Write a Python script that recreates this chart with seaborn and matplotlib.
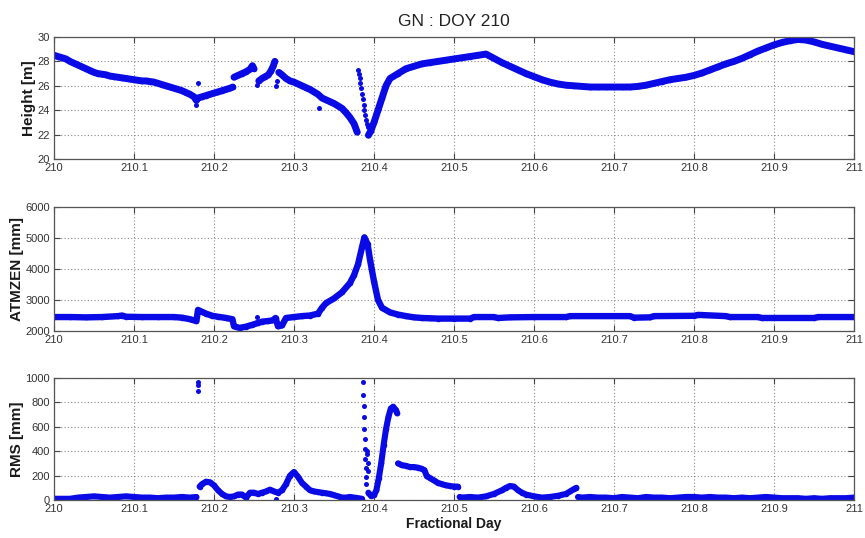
import numpy as np
import pandas as pd
import matplotlib
matplotlib.use("Agg")
import matplotlib.pyplot as plt
import seaborn as sns

# ---------------- data ----------------
x_ticks = [210.0, 210.1, 210.2, 210.3, 210.4, 210.5, 210.6, 210.7, 210.8, 210.9, 211.0]
x_ticklabels = ["210", "210.1", "210.2", "210.3", "210.4", "210.5", "210.6", "210.7", "210.8", "210.9", "211"]

# Height [m]
h_a_day = [210.000, 210.005, 210.010, 210.015, 210.020, 210.025, 210.030, 210.035, 210.040, 210.045,
           210.050, 210.055, 210.060, 210.065, 210.070, 210.075, 210.080, 210.085, 210.090, 210.095,
           210.100, 210.105, 210.110, 210.115, 210.120, 210.125, 210.130, 210.135, 210.140, 210.145,
           210.150, 210.155, 210.160, 210.165, 210.170, 210.175, 210.178, 210.180, 210.185, 210.190,
           210.195, 210.200, 210.205, 210.210, 210.215, 210.220, 210.2235]
h_a_val = [28.5, 28.4, 28.3, 28.2, 28.0, 27.85, 27.7, 27.55, 27.4, 27.25,
           27.1, 27.0, 26.95, 26.9, 26.8, 26.75, 26.7, 26.65, 26.6, 26.55,
           26.5, 26.45, 26.4, 26.4, 26.35, 26.3, 26.2, 26.1, 26.0, 25.9,
           25.8, 25.7, 25.6, 25.45, 25.3, 25.1, 24.8, 25.0, 25.1, 25.2,
           25.3, 25.4, 25.5, 25.6, 25.7, 25.8, 25.9]
h_b_day = [210.225, 210.230, 210.235, 210.240, 210.245, 210.248, 210.250]
h_b_val = [26.7, 26.85, 27.0, 27.15, 27.35, 27.65, 27.4]
h_c_day = [210.256, 210.260, 210.264, 210.268, 210.271, 210.274, 210.276]
h_c_val = [26.4, 26.6, 26.75, 26.9, 27.2, 27.6, 28.0]
h_d_day = [210.281, 210.285, 210.290, 210.295, 210.300, 210.305, 210.310, 210.315, 210.320, 210.325,
           210.330, 210.335, 210.340, 210.345, 210.350, 210.355, 210.360, 210.365, 210.370, 210.375,
           210.379]
h_d_val = [27.1, 26.9, 26.6, 26.4, 26.3, 26.15, 26.0, 25.85, 25.7, 25.5,
           25.3, 25.0, 24.85, 24.7, 24.55, 24.35, 24.15, 23.8, 23.4, 22.9,
           22.2]
h_f_day = [210.393, 210.396, 210.400, 210.405, 210.410, 210.415, 210.420, 210.430, 210.440, 210.450,
           210.460, 210.470, 210.480, 210.490, 210.500, 210.510, 210.520, 210.530, 210.540, 210.550,
           210.560, 210.570, 210.580, 210.590, 210.600, 210.610, 210.620, 210.630, 210.640, 210.650,
           210.660, 210.670, 210.680, 210.690, 210.700, 210.710, 210.720, 210.730, 210.740, 210.750,
           210.760, 210.770, 210.780, 210.790, 210.800, 210.810, 210.820, 210.830, 210.840, 210.850,
           210.860, 210.870, 210.880, 210.890, 210.900, 210.910, 210.920, 210.930, 210.940, 210.950,
           210.960, 210.970, 210.980, 210.990, 211.000]
h_f_val = [21.95, 22.3, 23.0, 24.0, 25.0, 26.0, 26.6, 27.0, 27.4, 27.6,
           27.8, 27.9, 28.0, 28.1, 28.2, 28.3, 28.4, 28.5, 28.6, 28.25,
           27.9, 27.6, 27.3, 27.0, 26.75, 26.5, 26.3, 26.15, 26.05, 26.0,
           25.95, 25.9, 25.9, 25.9, 25.9, 25.9, 25.9, 25.95, 26.05, 26.2,
           26.35, 26.5, 26.6, 26.7, 26.85, 27.05, 27.3, 27.55, 27.8, 28.0,
           28.25, 28.55, 28.85, 29.1, 29.35, 29.55, 29.7, 29.8, 29.75, 29.6,
           29.4, 29.25, 29.1, 28.95, 28.8]
h_dots_day = [210.178, 210.180, 210.254, 210.277, 210.279, 210.331,
              210.380, 210.381, 210.382, 210.383, 210.384, 210.385, 210.386,
              210.387, 210.388, 210.389, 210.390, 210.391, 210.392]
h_dots_val = [24.4, 26.2, 26.1, 26.0, 26.4, 24.2,
              27.3, 27.0, 26.6, 26.2, 25.8, 25.3, 24.9,
              24.4, 24.0, 23.6, 23.2, 22.9, 22.6]

# ATMZEN [mm]
a_day = [210.000, 210.020, 210.040, 210.060, 210.080, 210.085, 210.090, 210.110, 210.130, 210.150,
         210.160, 210.170, 210.178, 210.180, 210.185, 210.190, 210.198, 210.205, 210.215, 210.223,
         210.225, 210.232, 210.240, 210.248, 210.255, 210.260, 210.267, 210.273, 210.277, 210.280,
         210.285, 210.290, 210.300, 210.310, 210.320, 210.330, 210.335, 210.340, 210.350, 210.360,
         210.370, 210.375, 210.380, 210.385, 210.388, 210.392, 210.395, 210.400, 210.405, 210.410,
         210.420, 210.430, 210.440, 210.450, 210.460, 210.470, 210.480, 210.500, 210.520, 210.525,
         210.550, 210.555, 210.570, 210.600, 210.640, 210.645, 210.720, 210.725, 210.745, 210.750,
         210.800, 210.805, 210.840, 210.845, 210.880, 210.885, 210.950, 210.955, 211.000]
a_val = [2450, 2450, 2440, 2450, 2480, 2500, 2460, 2450, 2450, 2450,
         2430, 2380, 2320, 2680, 2620, 2560, 2490, 2460, 2420, 2380,
         2150, 2100, 2140, 2200, 2260, 2300, 2320, 2340, 2420, 2150,
         2180, 2420, 2450, 2480, 2500, 2560, 2750, 2900, 3050, 3250,
         3550, 3800, 4150, 4700, 5020, 4800, 4300, 3600, 3000, 2750,
         2600, 2530, 2480, 2440, 2420, 2410, 2400, 2400, 2400, 2450,
         2450, 2420, 2440, 2450, 2450, 2480, 2480, 2430, 2440, 2480,
         2490, 2520, 2480, 2450, 2450, 2420, 2420, 2450, 2450]
a_dots_day = [210.254]
a_dots_val = [2450]

# RMS [mm]
r_1_day = [210.000, 210.010, 210.020, 210.025, 210.030, 210.040, 210.050, 210.060, 210.070, 210.080,
           210.090, 210.100, 210.110, 210.120, 210.130, 210.140, 210.150, 210.160, 210.170, 210.178]
r_1_val = [10, 10, 10, 15, 20, 25, 30, 25, 20, 25,
           30, 25, 20, 20, 15, 20, 20, 25, 20, 25]
r_2_day = [210.182, 210.185, 210.190, 210.195, 210.200, 210.205, 210.210, 210.215, 210.220, 210.225,
           210.230, 210.235, 210.240, 210.245, 210.250, 210.255, 210.260, 210.265, 210.270, 210.275,
           210.280, 210.285, 210.290, 210.295, 210.300, 210.305, 210.310, 210.315, 210.320, 210.325,
           210.330, 210.335, 210.340, 210.345, 210.350, 210.355, 210.360, 210.365, 210.370, 210.375,
           210.380, 210.385]
r_2_val = [110, 130, 150, 145, 120, 80, 50, 30, 25, 30,
           45, 45, 20, 60, 60, 50, 60, 70, 85, 70,
           60, 80, 130, 200, 230, 190, 140, 110, 80, 70,
           65, 60, 55, 50, 40, 30, 20, 20, 25, 20,
           15, 10]
r_3_day = [210.393, 210.396, 210.400, 210.403, 210.406, 210.409, 210.412, 210.415, 210.418, 210.421,
           210.424, 210.427, 210.429]
r_3_val = [60, 35, 40, 80, 180, 300, 450, 580, 680, 750,
           765, 740, 710]
r_4_day = [210.430, 210.435, 210.440, 210.445, 210.450, 210.455, 210.460, 210.463, 210.466, 210.470,
           210.475, 210.480, 210.485, 210.490, 210.495, 210.500, 210.505]
r_4_val = [300, 285, 280, 270, 270, 265, 255, 245, 195, 180,
           160, 140, 130, 120, 115, 110, 110]
r_5_day = [210.507, 210.510, 210.520, 210.530, 210.540, 210.550, 210.560, 210.565, 210.570, 210.575,
           210.580, 210.585, 210.590, 210.600, 210.610, 210.620, 210.630, 210.640, 210.645, 210.650,
           210.653]
r_5_val = [25, 20, 25, 20, 30, 50, 80, 100, 115, 110,
           80, 60, 45, 30, 20, 25, 35, 50, 70, 90,
           100]
r_6_day = [210.655, 210.660, 210.670, 210.680, 210.690, 210.700, 210.710, 210.720, 210.730, 210.740,
           210.750, 210.760, 210.770, 210.780, 210.790, 210.800, 210.810, 210.820, 210.830, 210.840,
           210.850, 210.860, 210.870, 210.880, 210.890, 210.900, 210.910, 210.920, 210.930, 210.940,
           210.950, 210.960, 210.970, 210.980, 210.990, 211.000]
r_6_val = [25, 20, 25, 20, 20, 15, 25, 20, 15, 25,
           20, 20, 15, 20, 25, 25, 20, 25, 20, 20,
           15, 20, 15, 20, 25, 20, 15, 15, 15, 10,
           15, 10, 15, 15, 15, 20]
r_dots_day = [210.180, 210.180, 210.180, 210.277,
              210.3860, 210.3865, 210.3870, 210.3875, 210.3880, 210.3885, 210.3890, 210.3890,
              210.3895, 210.3900, 210.3900, 210.3910, 210.3915, 210.3920, 210.3925]
r_dots_val = [970, 940, 890, 5,
              970, 860, 770, 680, 580, 500, 420, 340,
              260, 190, 130, 400, 380, 300, 240]


def frame(segs):
    parts = []
    for i, (d, v) in enumerate(segs):
        parts.append(pd.DataFrame({"day": d, "val": v, "seg": i}))
    return pd.concat(parts, ignore_index=True)


height_df = frame([(h_a_day, h_a_val), (h_b_day, h_b_val), (h_c_day, h_c_val),
                   (h_d_day, h_d_val), (h_f_day, h_f_val)])
atm_df = frame([(a_day, a_val)])
rms_df = frame([(r_1_day, r_1_val), (r_2_day, r_2_val), (r_3_day, r_3_val),
                (r_4_day, r_4_val), (r_5_day, r_5_val), (r_6_day, r_6_val)])

# ---------------- styling ----------------
sns.set_style("ticks")
plt.rcParams["font.family"] = ["Liberation Sans", "DejaVu Sans"]

BLUE = "#0a0ae6"
fig = plt.figure(figsize=(8.65, 5.38), dpi=100)

rects = [
    [54 / 865, (538 - 159) / 538, 800 / 865, 122 / 538],
    [54 / 865, (538 - 331) / 538, 800 / 865, 124 / 538],
    [54 / 865, (538 - 500) / 538, 800 / 865, 122 / 538],
]
panels = [
    (height_df, h_dots_day, h_dots_val, (20, 30), [20, 22, 24, 26, 28, 30], "Height [m]", 5.0),
    (atm_df, a_dots_day, a_dots_val, (2000, 6000), [2000, 3000, 4000, 5000, 6000], "ATMZEN [mm]", 4.6),
    (rms_df, r_dots_day, r_dots_val, (0, 1000), [0, 200, 400, 600, 800, 1000], "RMS [mm]", 4.4),
]

for rect, (df, dd, dv, ylim, yticks, ylabel, lw) in zip(rects, panels):
    ax = fig.add_axes(rect)
    sns.lineplot(data=df, x="day", y="val", units="seg", estimator=None, sort=False,
                 color=BLUE, lw=lw, ax=ax, legend=False,
                 marker="o", markersize=4, markeredgewidth=0)
    sns.scatterplot(x=dd, y=dv, color=BLUE, s=13, linewidth=0, ax=ax, legend=False)
    ax.set_xlim(210, 211)
    ax.set_ylim(*ylim)
    ax.set_xticks(x_ticks)
    ax.set_xticklabels(x_ticklabels)
    ax.set_yticks(yticks)
    ax.grid(True, linestyle=(0, (1, 2)), color="#8a8a8a", lw=0.8)
    ax.tick_params(direction="in", length=4, width=0.8, top=True, right=True,
                   labelsize=8, colors="#444444", labelcolor="#333333", pad=3)
    for sp in ax.spines.values():
        sp.set_visible(True)
        sp.set_color("#555555")
        sp.set_linewidth(0.9)
    ax.set_ylabel(ylabel, fontsize=11, fontweight="bold", color="#1a1a1a", labelpad=1)
    ax.set_xlabel("")
    if ylabel == "Height [m]":
        ax.set_title("GN : DOY 210", fontsize=12.5, color="#222222", pad=8)
    if ylabel == "RMS [mm]":
        ax.set_xlabel("Fractional Day", fontsize=10, fontweight="bold", color="#1a1a1a", labelpad=2)

fig.savefig("out.png", dpi=100)
